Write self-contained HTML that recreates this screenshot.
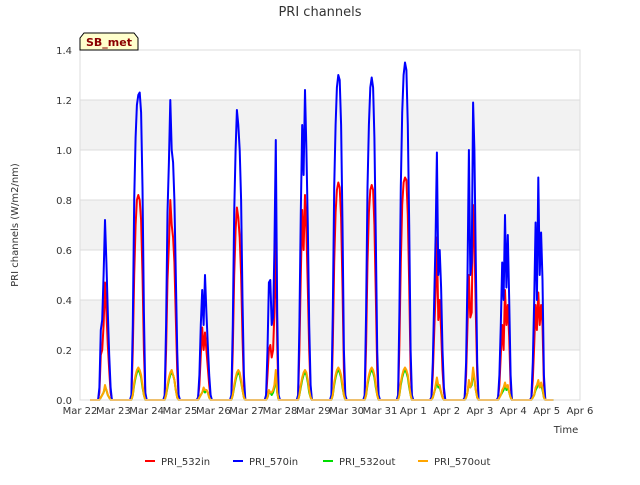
<!DOCTYPE html>
<html><head><meta charset="utf-8"><style>
body{margin:0;background:#fff;font-family:"Liberation Sans","DejaVu Sans",sans-serif;}
svg text{font-family:"DejaVu Sans","Liberation Sans",sans-serif;}
</style></head><body>
<svg id="chart" width="640" height="480" xmlns="http://www.w3.org/2000/svg">
<rect width="640" height="480" fill="#fff"/>
<text x="320" y="16" text-anchor="middle" font-size="13" fill="#333">PRI channels</text>
<g id="grid"></g><g id="series"></g><g id="axes"></g>
<text transform="translate(18,225) rotate(-90)" text-anchor="middle" font-size="10" fill="#333">PRI channels (W/m2/nm)</text>
<text x="566" y="433" text-anchor="middle" font-size="10" fill="#333">Time</text>
<g>
<path d="M80,50 L80,38 L84,33 L134,33 L138,38 L138,50 Z" fill="#ffffcc" stroke="#000" stroke-width="1"/>
<text x="109" y="46" text-anchor="middle" font-size="11" font-weight="bold" fill="#8b0000">SB_met</text></g>
<g id="legend"></g>
</svg>
<script>
const ticksY=[0,0.2,0.4,0.6,0.8,1.0,1.2,1.4];
const tickLabelsX=["Mar 22","Mar 23","Mar 24","Mar 25","Mar 26","Mar 27","Mar 28","Mar 29","Mar 30","Mar 31","Apr 1","Apr 2","Apr 3","Apr 4","Apr 5","Apr 6"];
const sampleHours=[12,13,14,15,16,17,18,19,20,21,22,23,24,25,26];
const blue=[
[0,0,0.05,0.28,0.32,0.5,0.72,0.55,0.35,0.18,0.05,0,0,0,0],
[0,0.02,0.3,0.8,1.05,1.18,1.22,1.23,1.15,0.85,0.35,0.03,0,0,0],
[0,0.02,0.3,0.75,0.95,1.2,1.0,0.95,0.8,0.5,0.2,0.02,0,0,0],
[0,0.01,0.1,0.3,0.44,0.3,0.5,0.35,0.22,0.1,0.02,0,0,0,0],
[0,0.02,0.3,0.75,1.0,1.16,1.1,1.0,0.8,0.4,0.1,0,0,0,0],
[0,0,0.02,0.2,0.47,0.48,0.3,0.33,0.6,1.04,0.35,0.02,0,0,0],
[0,0.02,0.3,0.75,1.1,0.9,1.24,1.0,0.7,0.3,0.06,0,0,0,0],
[0,0.02,0.35,0.85,1.1,1.25,1.3,1.28,1.1,0.7,0.2,0.02,0,0,0],
[0,0.02,0.35,0.85,1.1,1.25,1.29,1.25,1.05,0.65,0.2,0.02,0,0,0],
[0,0.02,0.35,0.85,1.15,1.3,1.35,1.32,1.1,0.7,0.2,0.02,0,0,0],
[0,0.01,0.15,0.4,0.65,0.99,0.5,0.6,0.45,0.2,0.05,0,0,0,0],
[0,0.01,0.15,0.5,1.0,0.5,0.55,1.19,1.0,0.55,0.15,0,0,0,0],
[0,0.01,0.1,0.3,0.55,0.4,0.74,0.45,0.66,0.4,0.1,0,0,0,0],
[0,0.01,0.15,0.4,0.71,0.4,0.89,0.5,0.67,0.48,0.1,0,0,0,0]];
const red=[
[0,0,0.03,0.18,0.2,0.3,0.47,0.35,0.22,0.12,0.03,0,0,0,0],
[0,0.01,0.2,0.5,0.7,0.8,0.82,0.8,0.72,0.5,0.2,0.02,0,0,0],
[0,0.01,0.2,0.48,0.62,0.8,0.7,0.65,0.55,0.33,0.12,0.01,0,0,0],
[0,0.01,0.06,0.18,0.29,0.2,0.27,0.2,0.13,0.06,0.01,0,0,0,0],
[0,0.01,0.2,0.5,0.68,0.77,0.73,0.65,0.5,0.25,0.06,0,0,0,0],
[0,0,0.01,0.1,0.2,0.22,0.17,0.2,0.35,0.7,0.22,0.01,0,0,0],
[0,0.01,0.2,0.5,0.76,0.6,0.82,0.68,0.45,0.2,0.04,0,0,0,0],
[0,0.01,0.22,0.55,0.75,0.84,0.87,0.85,0.73,0.45,0.12,0.01,0,0,0],
[0,0.01,0.22,0.55,0.75,0.84,0.86,0.84,0.7,0.42,0.12,0.01,0,0,0],
[0,0.01,0.22,0.55,0.78,0.87,0.89,0.88,0.74,0.46,0.12,0.01,0,0,0],
[0,0.01,0.1,0.27,0.43,0.65,0.32,0.4,0.28,0.12,0.03,0,0,0,0],
[0,0.01,0.1,0.3,0.5,0.33,0.35,0.78,0.65,0.35,0.1,0,0,0,0],
[0,0.01,0.06,0.18,0.3,0.2,0.44,0.3,0.38,0.25,0.06,0,0,0,0],
[0,0.01,0.08,0.22,0.38,0.28,0.43,0.3,0.38,0.3,0.06,0,0,0,0]];
const green=[
[0,0,0,0.01,0.02,0.03,0.05,0.04,0.02,0.01,0,0,0,0,0],
[0,0,0.02,0.06,0.09,0.11,0.12,0.11,0.09,0.05,0.02,0,0,0,0],
[0,0,0.02,0.05,0.08,0.1,0.11,0.1,0.08,0.04,0.01,0,0,0,0],
[0,0,0.01,0.02,0.03,0.04,0.03,0.04,0.03,0.01,0,0,0,0,0],
[0,0,0.02,0.05,0.08,0.1,0.11,0.1,0.07,0.04,0.01,0,0,0,0],
[0,0,0,0.01,0.03,0.03,0.02,0.03,0.05,0.1,0.03,0,0,0,0],
[0,0,0.02,0.05,0.08,0.1,0.11,0.1,0.07,0.03,0.01,0,0,0,0],
[0,0,0.02,0.06,0.09,0.11,0.12,0.11,0.09,0.05,0.02,0,0,0,0],
[0,0,0.02,0.06,0.09,0.11,0.12,0.11,0.09,0.05,0.02,0,0,0,0],
[0,0,0.02,0.06,0.09,0.11,0.12,0.11,0.09,0.05,0.02,0,0,0,0],
[0,0,0.01,0.03,0.05,0.08,0.05,0.05,0.03,0.01,0,0,0,0,0],
[0,0,0.01,0.03,0.07,0.05,0.06,0.11,0.08,0.04,0.01,0,0,0,0],
[0,0,0.01,0.02,0.03,0.04,0.06,0.04,0.05,0.03,0.01,0,0,0,0],
[0,0,0.01,0.02,0.04,0.05,0.07,0.05,0.06,0.04,0.01,0,0,0,0]];
const orange=[
[0,0,0,0.01,0.02,0.03,0.06,0.04,0.02,0.01,0,0,0,0,0],
[0,0,0.02,0.07,0.1,0.12,0.13,0.12,0.1,0.06,0.02,0,0,0,0],
[0,0,0.02,0.06,0.09,0.11,0.12,0.1,0.08,0.04,0.01,0,0,0,0],
[0,0,0.01,0.02,0.03,0.05,0.04,0.04,0.03,0.01,0,0,0,0,0],
[0,0,0.02,0.06,0.09,0.11,0.12,0.11,0.08,0.04,0.01,0,0,0,0],
[0,0,0,0.01,0.04,0.03,0.03,0.04,0.06,0.12,0.03,0,0,0,0],
[0,0,0.02,0.06,0.09,0.11,0.12,0.11,0.08,0.04,0.01,0,0,0,0],
[0,0,0.02,0.07,0.1,0.12,0.13,0.12,0.1,0.06,0.02,0,0,0,0],
[0,0,0.02,0.07,0.1,0.12,0.13,0.12,0.1,0.06,0.02,0,0,0,0],
[0,0,0.02,0.07,0.1,0.12,0.13,0.12,0.1,0.06,0.02,0,0,0,0],
[0,0,0.01,0.03,0.06,0.09,0.06,0.06,0.03,0.01,0,0,0,0,0],
[0,0,0.01,0.03,0.08,0.05,0.07,0.13,0.09,0.04,0.01,0,0,0,0],
[0,0,0.01,0.02,0.04,0.05,0.07,0.05,0.06,0.03,0.01,0,0,0,0],
[0,0,0.01,0.02,0.05,0.06,0.08,0.05,0.07,0.05,0.01,0,0,0,0]];
const seriesNames=["PRI_532in","PRI_570in","PRI_532out","PRI_570out"];
const seriesColors=["#ff0000","#0000ff","#00dd00","#ffa500"];
const L=80,R=580,T=50,B=400,YMAX=1.4,DAYS=15;
const xs=t=>L+t/DAYS*(R-L);
const ys=v=>B-v/YMAX*(B-T);
const NS="http://www.w3.org/2000/svg";
function mk(tag,attrs,parent){const e=document.createElementNS(NS,tag);for(const k in attrs)e.setAttribute(k,attrs[k]);parent.appendChild(e);return e;}
const grid=document.getElementById('grid'),axes=document.getElementById('axes'),ser=document.getElementById('series'),leg=document.getElementById('legend');
for(let i=0;i<ticksY.length-1;i++){if(i%2===1){const b=mk('rect',{x:L,y:ys(ticksY[i+1]),width:R-L,height:ys(ticksY[i])-ys(ticksY[i+1]),fill:'#f2f2f2'},grid);

}}
ticksY.forEach(v=>{const l=mk('line',{x1:L,x2:R,y1:ys(v),y2:ys(v),stroke:'#dcdcdc','stroke-width':1},grid);


const t=mk('text',{x:L-8,y:ys(v)+4,'text-anchor':'end','font-size':10,fill:'#333'},axes);t.textContent=v.toFixed(1);

});
const fr=mk('rect',{x:L,y:T,width:R-L,height:B-T,fill:'none',stroke:'#dcdcdc'},axes);


tickLabelsX.forEach((s,i)=>{const t=mk('text',{x:xs(i),y:414,'text-anchor':'middle','font-size':10,fill:'#333'},axes);t.textContent=s;

});
[red,blue,green,orange].forEach((data,si)=>{let pts=[[0.3,0]];
data.forEach((row,d)=>row.forEach((v,i)=>pts.push([d+sampleHours[i]/24,v])));
pts.push([14.2,0]);
const p=mk('polyline',{points:pts.map(q=>xs(q[0]).toFixed(1)+','+ys(q[1]).toFixed(1)).join(' '),fill:'none',stroke:seriesColors[si],'stroke-width':2,'stroke-linejoin':'round'},ser);

});
const legX=[145,233,323,418];
seriesNames.forEach((n,i)=>{const g=mk('g',{},leg);


mk('line',{x1:legX[i],x2:legX[i]+10,y1:461,y2:461,stroke:seriesColors[i],'stroke-width':2},g);
const t=mk('text',{x:legX[i]+16,y:465,'font-size':10,fill:'#333'},g);t.textContent=n;});
</script>
</body></html>
